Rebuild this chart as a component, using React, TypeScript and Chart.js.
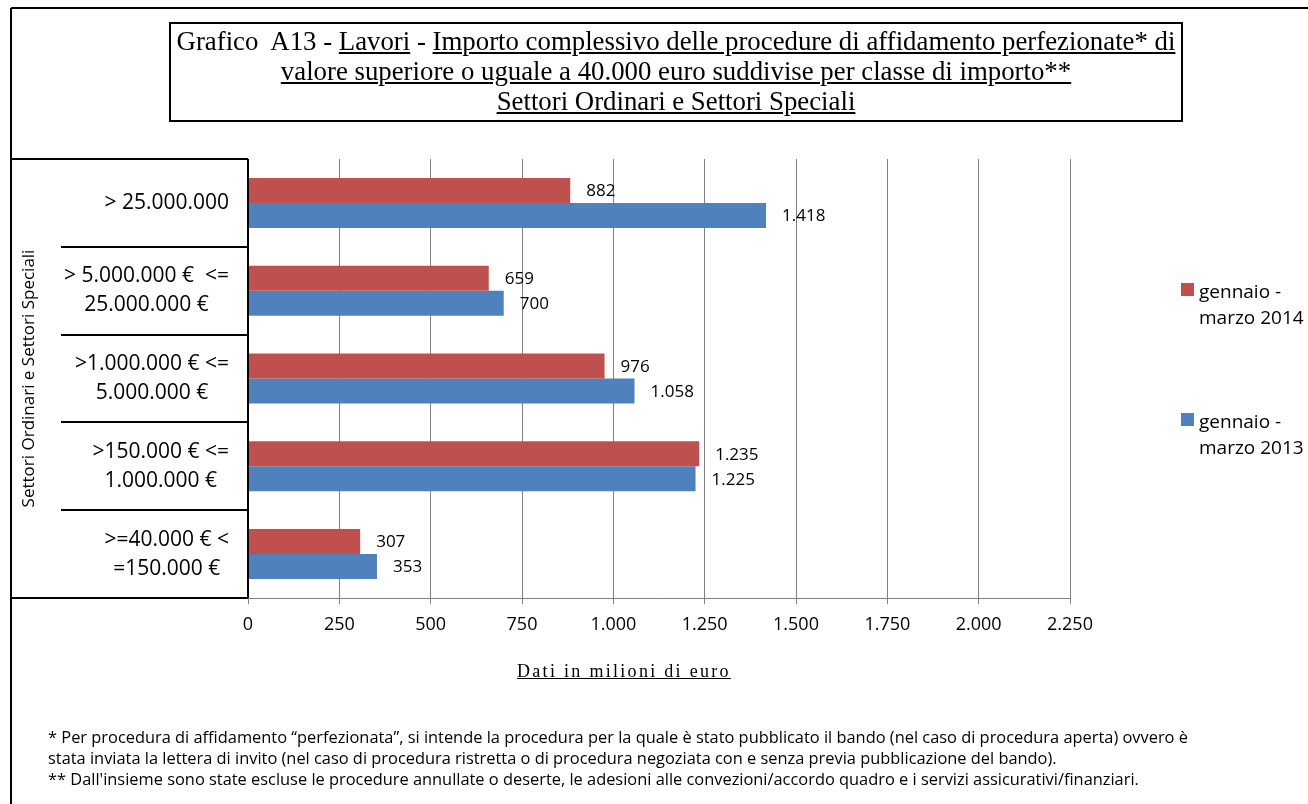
import React, { useEffect, useRef } from "react";
import { Chart, registerables } from "chart.js";

Chart.register(...registerables);

// ---------- data ----------
const categories: string[][] = [
  ["> 25.000.000"],
  ["> 5.000.000 €  <=", "25.000.000 €"],
  [">1.000.000 € <=", "5.000.000 €"],
  [">150.000 € <=", "1.000.000 €"],
  [">=40.000 € <", "=150.000 €"],
];
const values2014: number[] = [882, 659, 976, 1235, 307];
const values2013: number[] = [1418, 700, 1058, 1225, 353];
const seriesNames: string[][] = [
  ["gennaio -", "marzo 2014"],
  ["gennaio -", "marzo 2013"],
];
const seriesColors: string[] = ["#C0504D", "#4F81BD"];
const xMin = 0;
const xMax = 2250;
const xStep = 250;
const yAxisTitle = "Settori Ordinari e Settori Speciali";
const xAxisTitle = "Dati in milioni di euro";
const footnotes: string[] = [
  "* Per procedura di affidamento “perfezionata”, si intende la procedura per la quale è stato pubblicato il bando (nel caso di procedura aperta) ovvero è",
  "stata inviata la lettera di invito (nel caso di procedura ristretta o di procedura negoziata con e senza previa pubblicazione del bando).",
  "** Dall'insieme sono state escluse le procedure annullate o deserte, le adesioni alle convezioni/accordo quadro e i servizi assicurativi/finanziari.",
];

const SANS = '"Open Sans", "Noto Sans", sans-serif';
const SERIF = '"Liberation Serif", "Times New Roman", serif';

const fmt = (v: number) =>
  String(Math.round(v)).replace(/\B(?=(\d{3})+(?!\d))/g, ".");

const decorPlugin = {
  id: "decor",
  afterDraw(chart: any) {
    const { ctx, chartArea } = chart;
    const y = chart.scales.y;
    ctx.save();

    // data labels
    ctx.font = `17px ${SANS}`;
    ctx.fillStyle = "#000";
    ctx.textAlign = "left";
    ctx.textBaseline = "middle";
    chart.data.datasets.forEach((ds: any, di: number) => {
      const meta = chart.getDatasetMeta(di);
      meta.data.forEach((bar: any, i: number) => {
        ctx.fillText(fmt(ds.data[i]), bar.x + 16, bar.y + 1);
      });
    });

    // category box
    const band =
      categories.length > 1
        ? y.getPixelForValue(1) - y.getPixelForValue(0)
        : chartArea.bottom - chartArea.top;
    const boxLeft = 11;
    const boxRight = chartArea.left;
    ctx.strokeStyle = "#000";
    ctx.lineWidth = 2;
    ctx.beginPath();
    ctx.moveTo(boxLeft, chartArea.top);
    ctx.lineTo(boxRight, chartArea.top);
    ctx.moveTo(boxLeft, chartArea.bottom);
    ctx.lineTo(boxRight, chartArea.bottom);
    ctx.moveTo(boxRight, chartArea.top);
    ctx.lineTo(boxRight, chartArea.bottom);
    for (let i = 1; i < categories.length; i++) {
      const yy = Math.round(y.getPixelForValue(i) - band / 2);
      ctx.moveTo(61, yy);
      ctx.lineTo(boxRight, yy);
    }
    // outer frame
    ctx.moveTo(11, 8);
    ctx.lineTo(1308, 8);
    ctx.moveTo(11, 8);
    ctx.lineTo(11, 804);
    ctx.stroke();

    // category labels
    ctx.font = `21px ${SANS}`;
    ctx.textAlign = "center";
    ctx.textBaseline = "middle";
    categories.forEach((lines, i) => {
      const cy = y.getPixelForValue(i);
      const w = Math.max(...lines.map((l) => ctx.measureText(l).width));
      const cx = boxRight - 19 - w / 2;
      lines.forEach((l, j) => {
        ctx.fillText(l, cx, cy + (j - (lines.length - 1) / 2) * 29);
      });
    });

    // y axis title
    ctx.save();
    ctx.font = `17px ${SANS}`;
    ctx.translate(29, (chartArea.top + chartArea.bottom) / 2);
    ctx.rotate(-Math.PI / 2);
    ctx.textAlign = "center";
    ctx.textBaseline = "middle";
    ctx.fillText(yAxisTitle, 0, 0);
    ctx.restore();

    // legend
    ctx.font = `19px ${SANS}`;
    ctx.textAlign = "left";
    ctx.textBaseline = "alphabetic";
    seriesNames.forEach((lines, i) => {
      const top = 283 + i * 130;
      ctx.fillStyle = seriesColors[i];
      ctx.fillRect(1181, top, 13, 13);
      ctx.fillStyle = "#000";
      lines.forEach((l, j) => {
        ctx.fillText(l, 1199, top + 15 + j * 26);
      });
    });

    ctx.restore();
  },
};

export default function App() {
  const ref = useRef<HTMLCanvasElement | null>(null);

  useEffect(() => {
    if (!ref.current) return;
    const chart = new Chart(ref.current, {
      type: "bar",
      data: {
        labels: categories.map((c) => c.join(" ")),
        datasets: [
          {
            label: seriesNames[0].join(" "),
            data: values2014,
            backgroundColor: seriesColors[0],
            barPercentage: 1,
            categoryPercentage: 0.57,
          },
          {
            label: seriesNames[1].join(" "),
            data: values2013,
            backgroundColor: seriesColors[1],
            barPercentage: 1,
            categoryPercentage: 0.57,
          },
        ],
      },
      options: {
        indexAxis: "y",
        animation: false,
        responsive: false,
        maintainAspectRatio: false,
        devicePixelRatio: 1,
        layout: { padding: { left: 248, top: 159, right: 238, bottom: 166 } },
        plugins: {
          legend: { display: false },
          tooltip: { enabled: false },
          title: { display: false },
        },
        scales: {
          x: {
            min: xMin,
            max: xMax,
            afterFit: (s: any) => {
              s.height = 40;
            },
            ticks: {
              stepSize: xStep,
              color: "#000",
              font: { family: SANS, size: 18 },
              padding: 10,
              callback: (v: any) => fmt(Number(v)),
            },
            grid: {
              color: "#808080",
              lineWidth: 1,
              tickLength: 6,
              drawOnChartArea: true,
              drawTicks: true,
            },
            border: { display: true, color: "#808080", width: 1 },
          },
          y: {
            display: false,
            grid: { display: false },
          },
        },
      },
      plugins: [decorPlugin],
    });
    return () => chart.destroy();
  }, []);

  return (
    <div style={{ position: "absolute", left: 0, top: 0, width: 1308, height: 804, background: "#fff" }}>
      <canvas
        ref={ref}
        width={1308}
        height={804}
        style={{ position: "absolute", left: 0, top: 0, width: 1308, height: 804 }}
      />
      <div
        style={{
          position: "absolute",
          left: 169,
          top: 22,
          width: 1014,
          height: 100,
          boxSizing: "border-box",
          border: "2px solid #000",
          fontFamily: SERIF,
          fontSize: 26.8,
          lineHeight: "30px",
          textAlign: "center",
          paddingTop: 2,
          whiteSpace: "pre",
          color: "#000",
        }}
      >
        <div>
          {"Grafico  A13 - "}
          <u>Lavori</u>
          {" - "}
          <u>Importo complessivo delle procedure di affidamento perfezionate* di</u>
        </div>
        <div>
          <u>valore superiore o uguale a 40.000 euro suddivise per classe di importo**</u>
        </div>
        <div>
          <u>Settori Ordinari e Settori Speciali</u>
        </div>
      </div>
      <div
        style={{
          position: "absolute",
          left: 517,
          top: 659,
          fontFamily: SERIF,
          fontSize: 18,
          letterSpacing: "2.3px",
          lineHeight: "24px",
          textDecoration: "underline",
          whiteSpace: "pre",
          color: "#000",
        }}
      >
        {xAxisTitle}
      </div>
      <div
        style={{
          position: "absolute",
          left: 48,
          top: 726,
          fontFamily: SANS,
          fontSize: 16.4,
          lineHeight: "21px",
          whiteSpace: "pre",
          color: "#000",
        }}
      >
        {footnotes.map((f, i) => (
          <div key={i}>{f}</div>
        ))}
      </div>
    </div>
  );
}
